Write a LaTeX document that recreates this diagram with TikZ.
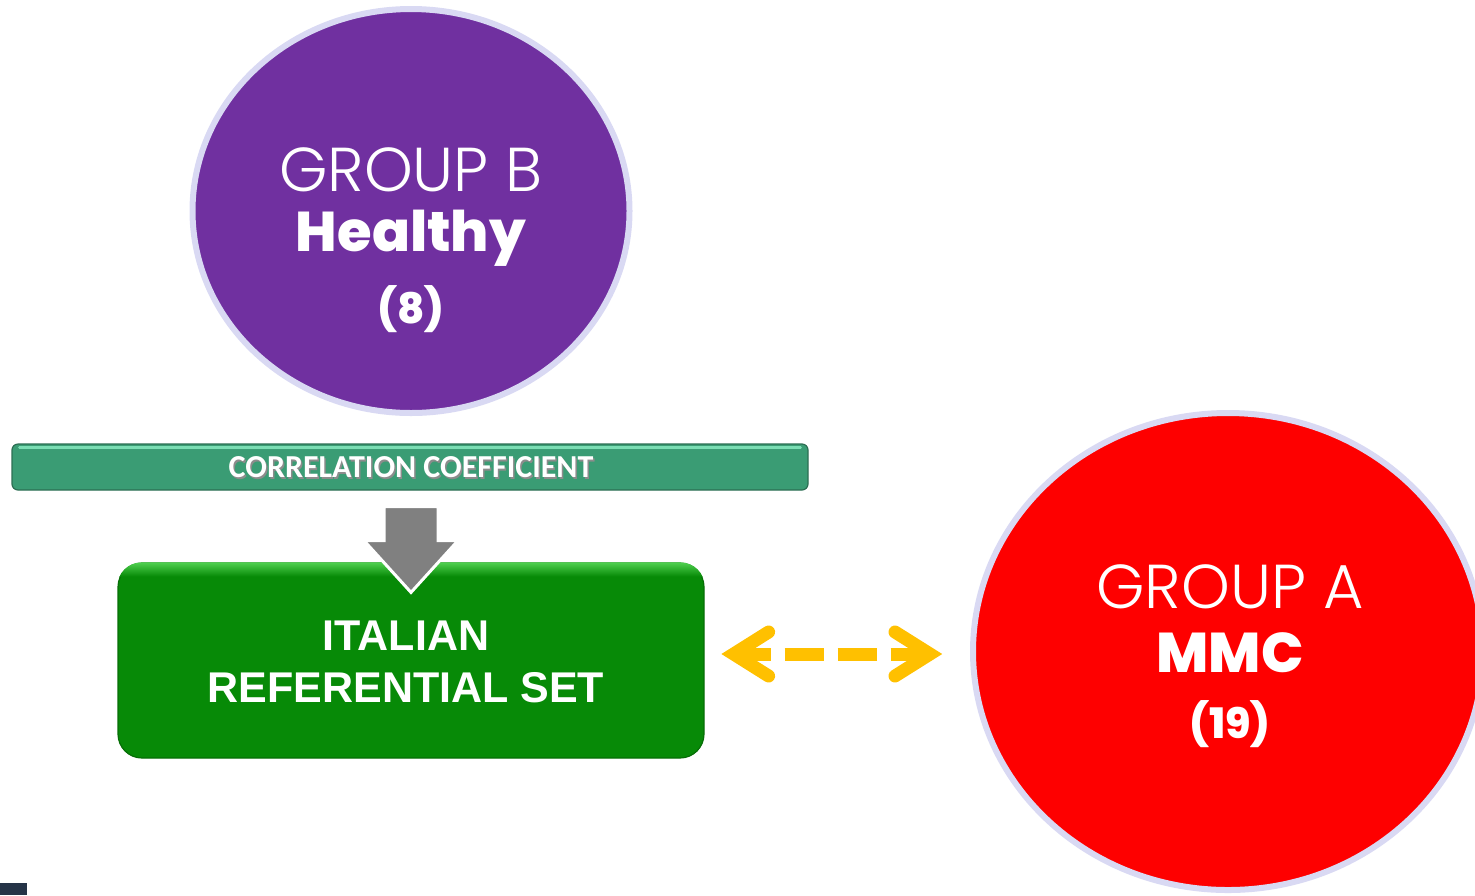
\documentclass[tikz,border=0pt]{standalone}
\usepackage{fontspec}
\usetikzlibrary{shapes.geometric,calc}
\newfontfamily\roundsans{Poppins}[UprightFont=* Light, BoldFont=* ExtraBold]
\newfontfamily\barfont{Carlito}
\newfontfamily\boxfont{Liberation Sans}
\definecolor{ringlav}{HTML}{D9D9F3}
\definecolor{grpB}{HTML}{7030A0}
\definecolor{grpA}{HTML}{FE0000}
\definecolor{barteal}{HTML}{3A9C74}
\definecolor{barlight}{HTML}{7ADDB3}
\definecolor{bardark}{HTML}{2C6E53}
\definecolor{setgreen}{HTML}{078A07}
\definecolor{setlight}{HTML}{4FD04F}
\definecolor{arrowgray}{HTML}{808080}
\definecolor{linkgold}{HTML}{FFC000}
\definecolor{cornerblue}{HTML}{253447}
\tikzset{
  group/.style={ellipse, draw=ringlav, line width=3pt, inner sep=0pt, outer sep=0pt},
  grouptext/.style={text=white, align=center, inner sep=0pt},
  chev/.style={draw=linkgold, line width=6.5pt, line cap=round, line join=miter, miter limit=10},
}
\begin{document}
\begin{tikzpicture}[x=0.5pt,y=-0.5pt]
\useasboundingbox (0,0) rectangle (1475,895);
\clip (0,0) rectangle (1475,895);

% group circles
\node[group, fill=grpB, minimum width=218.5pt, minimum height=202pt] (gb) at (411,211) {};
\node[group, fill=grpA, minimum width=255pt, minimum height=238.5pt] (ga) at (1228,651.5) {};

\node[grouptext, font=\roundsans\fontsize{31}{31}\selectfont] (gbt1) at (411,170) {GROUP B};
\node[grouptext, font=\roundsans\bfseries\fontsize{28}{28}\selectfont] (gbt2) at (411,238) {Healthy};
\node[grouptext, font=\roundsans\bfseries\fontsize{21}{21}\selectfont] (gbt3) at (411,309) {(8)};

\node[grouptext, font=\roundsans\fontsize{31}{31}\selectfont] (gat1) at (1230,587) {GROUP A};
\node[grouptext, font=\roundsans\bfseries\fontsize{28}{28}\selectfont] (gat2) at (1230,653) {MMC};
\node[grouptext, font=\roundsans\bfseries\fontsize{21}{21}\selectfont] (gat3) at (1230,724) {(19)};

% correlation bar
\node[rectangle, rounded corners=3pt, draw=bardark, line width=0.6pt, fill=barteal,
      minimum width=398pt, minimum height=23pt, inner sep=0pt] (bar) at (410,467) {};
\draw[barlight, line width=1.2pt, line cap=round] ($(bar.north west)+(8,4)$) -- ($(bar.north east)+(-8,4)$);
\node[text=black!45, inner sep=0pt, font=\barfont\bfseries\fontsize{16}{16}\selectfont] at (412.5,469.5) {CORRELATION COEFFICIENT};
\node[text=white, inner sep=0pt, font=\barfont\bfseries\fontsize{16}{16}\selectfont] (bart) at (411,467) {CORRELATION COEFFICIENT};

% referential set box
\node[rectangle, rounded corners=12pt, fill=setgreen, draw=setgreen!80!black, line width=0.6pt,
      minimum width=293pt, minimum height=97.5pt, inner sep=0pt] (irs) at (411,660.5) {};
\begin{scope}
  \clip[rounded corners=12pt] (irs.south west) rectangle (irs.north east);
  \shade[top color=setlight, bottom color=setgreen] ($(irs.north west)$) rectangle ($(irs.north east)+(0,14)$);
\end{scope}
\node[text=white, align=center, inner sep=0pt, font=\boxfont\bfseries\fontsize{21.5}{26}\selectfont] (irst) at (406,662)
  {ITALIAN\\REFERENTIAL SET};

% downward arrow from the bar into the box
\coordinate (dtip) at ($(irs.north)+(0,30)$);
\filldraw[fill=arrowgray, draw=white, line width=1.5pt, line join=miter]
  ($(bar.south)+(-26,16)$) -- ($(bar.south)+(28,16)$) -- ($(bar.south)+(28,50)$) --
  ($(bar.south)+(48,50)$) -- (dtip) -- ($(bar.south)+(-46,50)$) -- ($(bar.south)+(-26,50)$) -- cycle;

% dashed two-way link
\coordinate (lkL) at ($(irs.east)+(29,-6.5)$);
\coordinate (lkR) at ($(ga.west)+(-43,2.5)$);
\draw[linkgold, line width=6.5pt, dash pattern=on 19.75pt off 6.75pt] ($(lkL)+(-2,0)$) -- ($(lkR)+(3,0)$);
\draw[chev] ($(lkL)+(35,-22)$) -- (lkL) -- ($(lkL)+(35,22)$);
\draw[chev] ($(lkR)+(-35,-22)$) -- (lkR) -- ($(lkR)+(-35,22)$);

% corner tab
\fill[cornerblue] (0,883) rectangle (27,895);
\end{tikzpicture}
\end{document}
